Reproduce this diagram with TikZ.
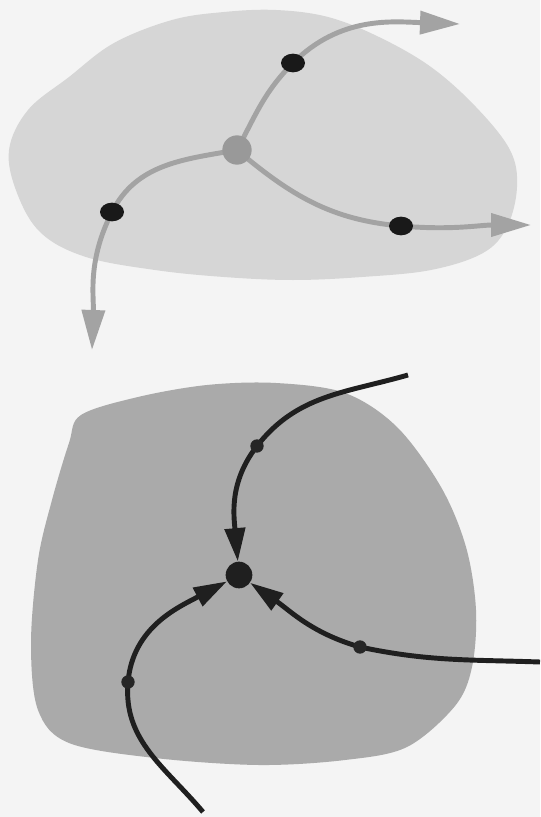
\documentclass[tikz,border=0pt]{standalone}
\usetikzlibrary{arrows.meta,shapes.geometric}
\begin{document}
\begin{tikzpicture}[x=0.75pt,y=-0.75pt,
  blob/.style={fill=#1,draw=none},
  tline/.style={draw=gray!72,line width=3.7pt,-{Triangle[length=30pt,width=17pt]}},
  bline/.style={draw=black!88,line width=3.7pt,-{Triangle[length=25pt,width=15pt]}},
  bigdot/.style={ellipse,fill=black!90,inner sep=0pt,minimum width=18pt,minimum height=14pt},
  smalldot/.style={circle,fill=black!85,inner sep=0pt,minimum size=10pt}]
\useasboundingbox (0,0) rectangle (540,817);
\fill[gray!9] (0,0) rectangle (540,817);
% upper region
\fill[blob=gray!32] plot[smooth cycle,tension=0.6] coordinates {(9,150) (28,110) (69,77) (114,43) (172,20) (224,12) (276,10) (328,17) (379,37) (431,67) (476,107) (510,150) (517,187) (507,227) (483,253) (431,270) (362,277) (293,280) (224,277) (155,270) (86,257) (41,233) (17,193)};
% lower region
\fill[blob=gray!67] plot[smooth cycle,tension=0.55] coordinates {(81,415) (138,397) (207,385) (276,383) (345,393) (397,427) (441,487) (466,547) (476,610) (472,667) (455,706) (407,747) (345,760) (259,765) (155,758) (69,743) (38,710) (31,643) (38,560) (52,500) (69,443)};
% upper flow
\coordinate (tm) at (237,150);
\coordinate (ta) at (293,63);
\coordinate (tb) at (401,226);
\coordinate (tc) at (112,212);
\coordinate (te1) at (460,24);
\coordinate (te2) at (531,225);
\coordinate (te3) at (92,350);
\draw[tline] (tm) to[out=62,in=225] (ta) to[out=45,in=178] (te1);
\draw[tline] (tm) to[out=-40,in=175] (tb) to[out=-5,in=180] (te2);
\draw[tline] (tm) to[out=190,in=63] (tc) to[out=243,in=88] (te3);
\node[circle,fill=gray!80,inner sep=0pt,minimum size=22pt] (saddle) at (tm) {};
\node[bigdot] (pa) at (ta) {};
\node[bigdot] (pb) at (tb) {};
\node[bigdot] (pc) at (tc) {};
% lower flow
\node[circle,fill=black!88,inner sep=0pt,minimum size=20pt] (sink) at (239,575) {};
\coordinate (ba) at (408,375);
\coordinate (bb) at (540,662);
\coordinate (bc) at (203,812);
\coordinate (ma) at (257,446);
\coordinate (mb) at (360,647);
\coordinate (mc) at (128,682);
\draw[bline] (ba) to[out=196,in=52] (ma) to[out=232,in=95] (sink);
\draw[bline] (bb) to[out=178,in=-12] (mb) to[out=164,in=-35] (sink);
\draw[bline] (bc) to[out=130,in=-95] (mc) to[out=85,in=208] (sink);
\node[smalldot] (qa) at (ma) {};
\node[smalldot] (qb) at (mb) {};
\node[smalldot] (qc) at (mc) {};
\end{tikzpicture}
\end{document}
